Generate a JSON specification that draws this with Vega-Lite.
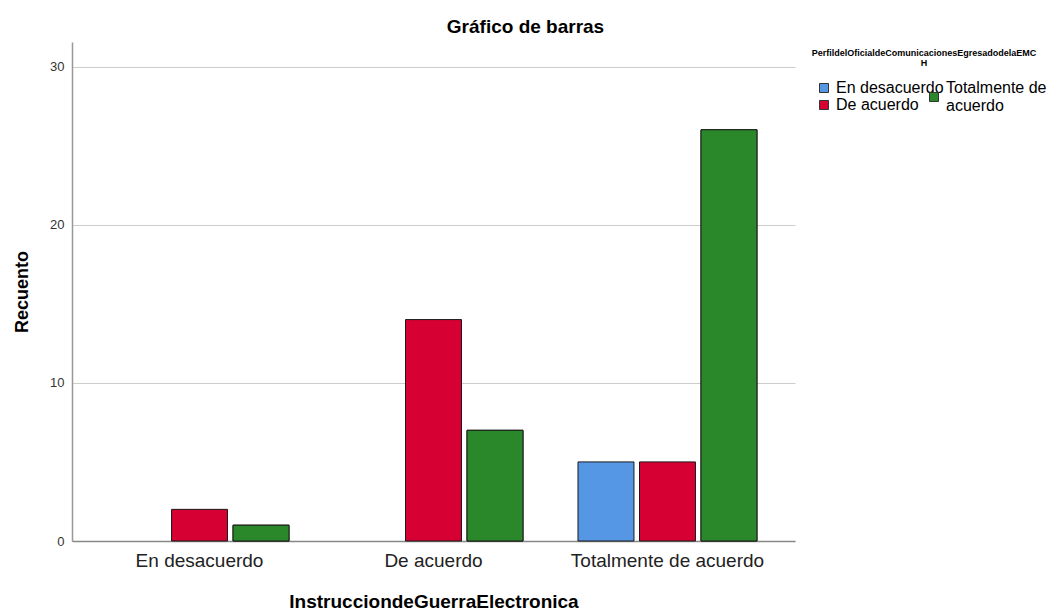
{
  "$schema": "https://vega.github.io/schema/vega-lite/v6.json",
  "width": 723,
  "height": 499,
  "autosize": {"type": "none"},
  "padding": {"left": 72, "top": 42, "right": 255, "bottom": 69},
  "background": "white",
  "title": {
    "text": "Gráfico de barras",
    "font": "Liberation Sans",
    "fontSize": 19,
    "fontWeight": "bold",
    "color": "#000000",
    "anchor": "middle",
    "frame": "group",
    "baseline": "alphabetic",
    "offset": 8,
    "dx": 92,
    "dy": 18
  },
  "data": {
    "values": [
      {"Instruccion": "En desacuerdo", "Perfil": "De acuerdo", "Recuento": 2},
      {"Instruccion": "En desacuerdo", "Perfil": "Totalmente de acuerdo", "Recuento": 1},
      {"Instruccion": "De acuerdo", "Perfil": "De acuerdo", "Recuento": 14},
      {"Instruccion": "De acuerdo", "Perfil": "Totalmente de acuerdo", "Recuento": 7},
      {"Instruccion": "Totalmente de acuerdo", "Perfil": "En desacuerdo", "Recuento": 5},
      {"Instruccion": "Totalmente de acuerdo", "Perfil": "De acuerdo", "Recuento": 5},
      {"Instruccion": "Totalmente de acuerdo", "Perfil": "Totalmente de acuerdo", "Recuento": 26}
    ]
  },
  "encoding": {
    "x": {
      "field": "Instruccion",
      "type": "nominal",
      "sort": ["En desacuerdo", "De acuerdo", "Totalmente de acuerdo"],
      "scale": {"paddingInner": 0, "paddingOuter": 0.045},
      "axis": {
        "title": "InstrucciondeGuerraElectronica",
        "titleFontSize": 19,
        "titleFontWeight": "bold",
        "titleColor": "#000000",
        "titlePadding": 22,
        "labelAngle": 0,
        "labelFontSize": 19,
        "labelColor": "#222222",
        "labelPadding": 10,
        "labelLimit": 400,
        "ticks": false,
        "domainColor": "#888888",
        "domainWidth": 1.5,
        "grid": false
      }
    },
    "xOffset": {
      "field": "Perfil",
      "type": "nominal",
      "sort": ["En desacuerdo", "De acuerdo", "Totalmente de acuerdo"],
      "scale": {"domain": ["En desacuerdo", "De acuerdo", "Totalmente de acuerdo"], "paddingInner": 0.09, "paddingOuter": 0.447}
    },
    "y": {
      "field": "Recuento",
      "type": "quantitative",
      "scale": {"domain": [0, 31.55], "nice": false},
      "axis": {
        "title": "Recuento",
        "titleFontSize": 18,
        "titleFontWeight": "bold",
        "titleColor": "#000000",
        "titlePadding": 18,
        "values": [0, 10, 20, 30],
        "labelFontSize": 13,
        "labelColor": "#333333",
        "labelPadding": 8,
        "ticks": false,
        "domainColor": "#999999",
        "domainWidth": 1.5,
        "grid": true,
        "gridColor": "#CCCCCC",
        "gridWidth": 1
      }
    }
  },
  "layer": [
    {
      "mark": {"type": "bar", "stroke": "#1a1a1a", "strokeWidth": 1},
      "encoding": {
        "color": {
          "field": "Perfil",
          "type": "nominal",
          "scale": {
            "domain": ["En desacuerdo", "De acuerdo", "Totalmente de acuerdo"],
            "range": ["#5596E5", "#D60032", "#2A872A"]
          },
          "legend": {
            "orient": "none",
            "legendX": 740,
            "legendY": 7,
            "values": ["En desacuerdo", "De acuerdo"],
            "rowPadding": 1,
            "title": ["PerfildelOficialdeComunicacionesEgresadodelaEMC", "H"],
            "titleFontSize": 9,
            "titleFontWeight": "bold",
            "titleColor": "#000000",
            "titleAnchor": "middle",
            "titleAlign": "center",
            "titleLineHeight": 10,
            "titlePadding": 12,
            "titleLimit": 400,
            "encode": {
              "title": {"update": {"dx": {"value": 44}}}
            }
          }
        }
      }
    },
    {
      "transform": [{"filter": "datum.Perfil == 'Totalmente de acuerdo'"}],
      "mark": {"type": "bar", "stroke": "#1a1a1a", "strokeWidth": 1},
      "encoding": {
        "fill": {
          "field": "Perfil",
          "type": "nominal",
          "scale": {
            "domain": ["Totalmente de acuerdo"],
            "range": ["#2A872A"]
          },
          "legend": {
            "orient": "none",
            "legendX": 854,
            "legendY": 38,
            "title": null,
            "labelExpr": "['Totalmente de', 'acuerdo']",
            "encode": {
              "symbols": {"update": {"y": {"value": 17}}},
              "labels": {"update": {"y": {"value": 8}}}
            }
          }
        }
      }
    }
  ],
  "config": {
    "font": "Liberation Sans",
    "view": {"stroke": null},
    "bar": {"opacity": 1},
    "legend": {
      "padding": 0,
      "symbolType": "square",
      "symbolSize": 81,
      "symbolStrokeColor": "#333333",
      "symbolStrokeWidth": 1,
      "symbolOpacity": 1,
      "labelFontSize": 16,
      "labelColor": "#000000",
      "labelOffset": 4,
      "labelLimit": 200
    }
  }
}
